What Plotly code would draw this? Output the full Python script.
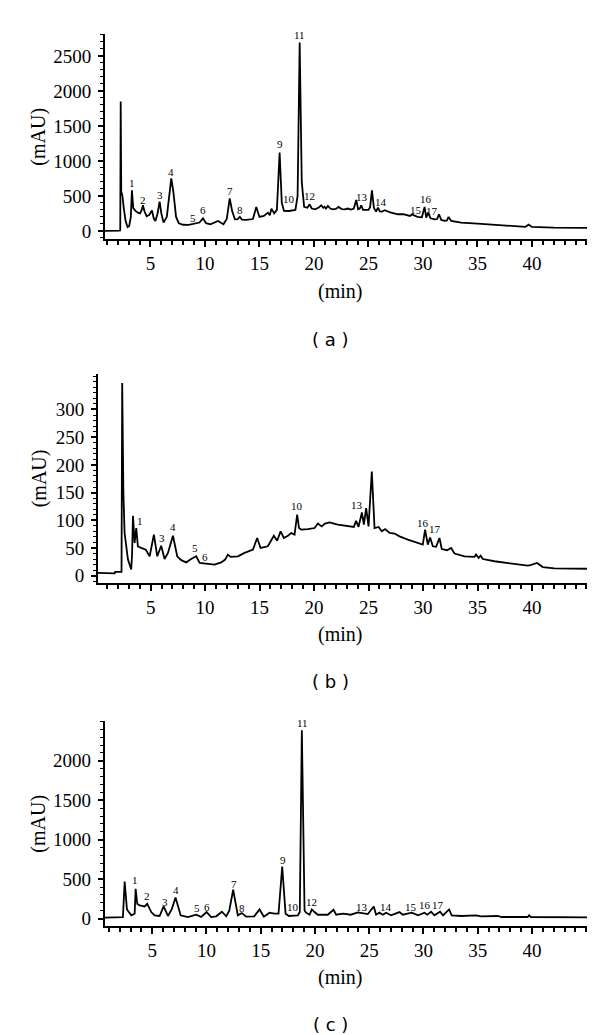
import plotly.graph_objects as go

# ---- chromatogram (a) ----
time_a = [0.83, 2.2, 2.23, 2.27, 2.32, 2.42, 2.55, 2.72, 2.9, 3.05, 3.2, 3.3, 3.42, 3.6,
          3.85, 4.05, 4.2, 4.31, 4.45, 4.65, 4.9, 5.14, 5.3, 5.45, 5.65, 5.84, 6.0, 6.2,
          6.5, 6.75, 6.91, 7.1, 7.35, 7.6, 8.0, 8.5, 9.0, 9.5, 9.82, 10.1, 10.5, 11.2,
          11.7, 12.0, 12.27, 12.5, 12.75, 13.0, 13.2, 13.4, 13.8, 14.4, 14.71, 15.0,
          15.4, 15.78, 15.95, 16.1, 16.35, 16.6, 16.85, 17.05, 17.25, 17.7, 18.3, 18.5,
          18.69, 18.88, 19.1, 19.4, 19.6, 19.8, 20.1, 20.4, 20.67, 20.85, 20.98, 21.1,
          21.28, 21.5, 21.74, 22.0, 22.27, 22.55, 22.82, 23.1, 23.4, 23.65, 23.88, 24.05,
          24.2, 24.34, 24.5, 24.75, 25.0, 25.15, 25.32, 25.5, 25.7, 25.87, 26.05, 26.25,
          26.48, 27.0, 27.7, 28.2, 28.8, 29.0, 29.5, 29.9, 30.15, 30.3, 30.46, 30.7,
          31.1, 31.3, 31.47, 31.68, 32.0, 32.2, 32.35, 32.6, 33.5, 35.0, 36.0, 37.5,
          39.4, 39.7, 40.0, 42.0, 45.05]
signal_a = [0, 5, 30, 1847, 560, 510, 330, 140, 55, 70, 200, 580, 330, 290,
            260, 250, 300, 366, 280, 210, 230, 294, 180, 140, 250, 419, 250, 119,
            200, 520, 751, 560, 200, 110, 88, 86, 105, 120, 180, 110, 95, 143,
            94, 170, 466, 280, 166, 170, 200, 160, 157, 170, 343, 200,
            215, 261, 225, 319, 250, 300, 1119, 400, 286, 285, 300, 500,
            2690, 700, 343, 330, 380, 320, 309, 330, 366, 330, 345, 320,
            357, 320, 309, 315, 343, 310, 309, 320, 305, 320, 443, 310,
            320, 366, 300, 295, 300, 340, 580, 330, 276, 333, 280, 276,
            295, 265, 238, 240, 214, 235, 200, 195, 343, 190, 262, 180,
            166, 170, 238, 157, 145, 150, 200, 143, 119, 105, 95, 71,
            58, 90, 57, 47, 43]
peak_a = ["1", "2", "3", "4", "5", "6", "7", "8", "9", "10", "11", "12", "13", "14", "15", "16", "17"]
peak_a_t = [3.3, 4.31, 5.84, 6.91, 8.93, 9.82, 12.27, 13.21, 16.85, 17.68, 18.69, 19.6,
            24.45, 26.18, 29.39, 30.3, 30.83]
peak_a_y = [680, 443, 509, 843, 190, 294, 571, 294, 1237, 461, 2800, 500,
            490, 419, 304, 451, 286]

# ---- chromatogram (b) ----
time_b = [0.17, 1.7, 1.75, 2.33, 2.39, 2.5, 2.61, 2.92, 3.22, 3.3, 3.38, 3.53, 3.68,
          3.83, 4.14, 4.55, 4.91, 5.3, 5.61, 5.97, 6.28, 6.59, 7.05, 7.44, 7.81, 8.27,
          8.72, 9.18, 9.5, 10.26, 10.87, 11.48, 11.84, 12.09, 12.34, 13.01, 13.62,
          14.39, 14.78, 15.09, 15.76, 16.31, 16.61, 16.93, 17.23, 17.6, 17.9, 18.21,
          18.45, 18.62, 18.82, 19.43, 20.05, 20.35, 20.7, 21.0, 21.42, 22.18, 23.1,
          23.65, 23.86, 24.08, 24.39, 24.57, 24.78, 25.0, 25.3, 25.55, 25.92, 26.22,
          26.52, 26.93, 27.39, 27.84, 28.6, 29.37, 29.98, 30.19, 30.44, 30.65, 30.9,
          31.2, 31.51, 31.72, 32.21, 32.58, 32.89, 33.81, 34.72, 34.87, 35.1, 35.28,
          35.49, 36.56, 38.39, 39.61, 39.86, 40.47, 40.99, 42.06, 45.05]
signal_b = [5, 4, 7, 7, 348, 150, 77, 29, 11, 40, 108, 59, 86,
            53, 50, 47, 35, 74, 35, 54, 30, 41, 72, 35, 28, 24,
            30, 35, 23, 21, 20, 24, 29, 38, 34, 35, 41,
            47, 68, 50, 53, 72, 63, 80, 68, 72, 77, 74,
            110, 86, 83, 84, 86, 94, 89, 94, 96, 92, 89,
            88, 99, 88, 114, 92, 122, 89, 188, 86, 88, 80,
            84, 77, 76, 71, 65, 60, 56, 83, 56, 69, 53,
            52, 68, 48, 46, 50, 40, 35, 34, 38, 32, 36,
            30, 26, 21, 18, 19, 23, 15.5, 13, 12.5]
peak_b = ["1", "3", "4", "5", "6", "10", "13", "16", "17"]
peak_b_t = [3.99, 6.04, 7.05, 9.09, 10.01, 18.45, 23.95, 29.98, 31.06]
peak_b_y = [98, 68, 87, 50, 34, 126, 128, 95, 84]

# ---- chromatogram (c) ----
time_c = [0.62, 2.3, 2.46, 2.67, 3.07, 3.38, 3.47, 3.62, 3.84, 4.3, 4.54, 4.91, 5.22,
          5.68, 6.05, 6.45, 6.8, 7.15, 7.62, 8.29, 9.05, 9.51, 10.01, 10.43, 10.9,
          11.42, 11.82, 12.1, 12.46, 12.89, 13.26, 13.66, 14.4, 14.89, 15.29, 15.81,
          16.27, 16.64, 16.98, 17.29, 17.6, 18.42, 18.6, 18.79, 19.04, 19.18, 19.5,
          19.71, 19.96, 20.26, 21.18, 21.71, 21.95, 22.6, 23.3, 23.95, 24.87, 25.42,
          25.63, 25.94, 26.25, 26.55, 27.01, 27.79, 28.1, 28.92, 29.5, 30.09, 30.35,
          30.7, 31.0, 31.53, 31.8, 32.36, 32.6, 33.5, 34.84, 35.3, 36.84, 37.2, 39.6,
          39.73, 39.9, 45.07]
signal_c = [13, 20, 471, 117, 42, 63, 379, 189, 168, 155, 189, 84, 42,
            34, 155, 34, 120, 269, 42, 21, 50, 21, 84, 21, 30,
            88, 30, 100, 366, 42, 72, 26, 30, 117, 26, 76,
            63, 63, 661, 63, 34, 42, 84, 2387, 105, 76, 50,
            117, 84, 50, 50, 113, 50, 63, 50, 80, 58, 155,
            50, 76, 50, 76, 42, 84, 50, 76, 42, 76, 50,
            88, 42, 88, 42, 117, 42, 34, 42, 30, 34, 21, 21,
            42, 21, 17]
peak_c = ["1", "2", "3", "4", "5", "6", "7", "8", "9", "10", "11", "12", "13", "14", "15", "16", "17"]
peak_c_t = [3.43, 4.51, 6.14, 7.21, 9.12, 10.01, 12.53, 13.26, 17.01, 18.0, 18.82, 19.71,
            24.31, 26.55, 28.86, 30.18, 31.31]
peak_c_y = [484, 282, 210, 357, 139, 152, 442, 139, 745, 147, 2483, 210,
            147, 147, 147, 177, 177]

x_ticks = [5, 10, 15, 20, 25, 30, 35, 40]

W, H = 600, 1035
SERIF = "Times New Roman, Liberation Serif, serif"
SANS = "DejaVu Sans, Verdana, sans-serif"

panels = [
    dict(t=time_a, s=signal_a, lab=peak_a, lt=peak_a_t, ly=peak_a_y, tag="( a )",
         xpx=(97, 579), ypx=(26, 232), xr=[0.83, 45.05], yr=[-120, 2814],
         yt=[0, 500, 1000, 1500, 2000, 2500], ymin=100, minpx=284, tagpx=332),
    dict(t=time_b, s=signal_b, lab=peak_b, lt=peak_b_t, ly=peak_b_y, tag="( b )",
         xpx=(90, 579), ypx=(366.7, 576.7), xr=[0.17, 45.05], yr=[-13.3, 364.7],
         yt=[0, 50, 100, 150, 200, 250, 300], ymin=10, minpx=628, tagpx=675),
    dict(t=time_c, s=signal_c, lab=peak_c, lt=peak_c_t, ly=peak_c_y, tag="( c )",
         xpx=(96.7, 579), ypx=(715, 921), xr=[0.62, 45.07], yr=[-97, 2505],
         yt=[0, 500, 1000, 1500, 2000], ymin=100, minpx=972, tagpx=1019),
]


def paper_note(x_px, y_px, text, family, size, angle=0):
    return dict(x=x_px / W, y=1 - y_px / H, xref="paper", yref="paper", text=text,
                showarrow=False, xanchor="center", yanchor="middle", textangle=angle,
                font=dict(family=family, size=size, color="black"))


fig = go.Figure()
annotations = []
layout = {}

for i, p in enumerate(panels, start=1):
    xa = "x" if i == 1 else f"x{i}"
    ya = "y" if i == 1 else f"y{i}"
    fig.add_trace(go.Scatter(x=p["t"], y=p["s"], mode="lines", xaxis=xa, yaxis=ya,
                             line=dict(color="black", width=1.8), showlegend=False,
                             hoverinfo="skip"))
    key = "" if i == 1 else str(i)
    layout["xaxis" + key] = dict(
        domain=[p["xpx"][0] / W, p["xpx"][1] / W], range=p["xr"], anchor=ya,
        showline=True, linecolor="black", linewidth=2, showgrid=False, zeroline=False,
        ticks="outside", ticklen=6, tickwidth=1.5, tickcolor="black", tickvals=x_ticks,
        tickfont=dict(family=SERIF, size=19, color="black"),
        minor=dict(dtick=1, tick0=0, ticks="outside", ticklen=4, tickwidth=1.5,
                   tickcolor="black", showgrid=False),
    )
    layout["yaxis" + key] = dict(
        domain=[1 - p["ypx"][1] / H, 1 - p["ypx"][0] / H], range=p["yr"], anchor=xa,
        showline=True, linecolor="black", linewidth=2, showgrid=False, zeroline=False,
        ticks="outside", ticklen=5, tickwidth=1.5, tickcolor="black", tickvals=p["yt"],
        ticklabelstandoff=3,
        tickfont=dict(family=SERIF, size=19, color="black"),
        minor=dict(dtick=p["ymin"], tick0=0, ticks="outside", ticklen=3, tickwidth=1.2,
                   tickcolor="black", showgrid=False),
    )
    for lab, lt, ly in zip(p["lab"], p["lt"], p["ly"]):
        annotations.append(dict(x=lt, y=ly, xref=xa, yref=ya, text=lab, showarrow=False,
                                xanchor="center", yanchor="middle",
                                font=dict(family=SERIF, size=11, color="black")))
    mid = (p["ypx"][0] + p["ypx"][1]) / 2
    annotations.append(paper_note(31, mid, "(mAU)", SERIF, 20, -90))
    annotations.append(paper_note(332, p["minpx"], "(min)", SERIF, 20))
    annotations.append(paper_note(322, p["tagpx"], p["tag"], SANS, 18))

fig.update_layout(
    width=W, height=H, margin=dict(l=0, r=0, t=0, b=0),
    paper_bgcolor="white", plot_bgcolor="white",
    font=dict(family=SERIF, color="black"),
    annotations=annotations, **layout,
)

fig.write_html("out.html")
